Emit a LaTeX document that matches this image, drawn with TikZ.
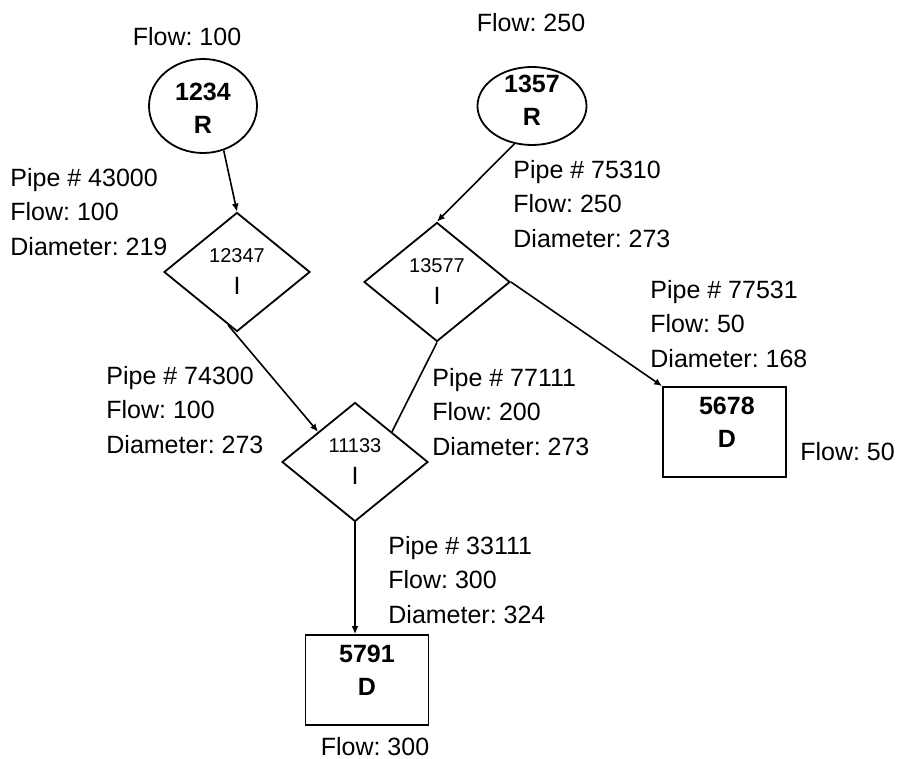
\documentclass[tikz,border=0pt]{standalone}
\usepackage{fontspec}
\setmainfont{Liberation Sans}
\usepackage{tikz}
\usetikzlibrary{arrows.meta,positioning,calc,shapes.geometric}
\frenchspacing
\tikzset{
  reservoir/.style={
    ellipse,
    draw=black,
    line width=0.9pt,
    inner sep=0pt
  },
  junction/.style={
    diamond,
    draw=black,
    line width=0.9pt,
    inner sep=0pt,
    minimum width=73pt,
    minimum height=59.5pt,
    align=center,
    font=\fontsize{12.5}{16}\selectfont
  },
  demand/.style={
    rectangle,
    draw=black,
    line width=0.9pt,
    minimum width=61.5pt,
    minimum height=45pt
  },
  idtext/.style={
    align=center,
    inner sep=0pt,
    font=\fontsize{12.5}{16.5}\selectfont\bfseries
  },
  info/.style={
    align=left,
    inner sep=0pt,
    font=\fontsize{12.5}{17.1}\selectfont
  },
  pipe/.style={-{Latex[length=4pt,width=3.5pt]}, line width=0.8pt, draw=black},
  plainpipe/.style={line width=0.8pt, draw=black}
}

\begin{document}
\begin{tikzpicture}[x=0.5pt, y=-0.5pt]
  \useasboundingbox (0,0) rectangle (900,759);

  \node[reservoir, minimum width=54pt, minimum height=47pt,
    label={[idtext, yshift=-1.2pt]center:{1234\\R}}] (n1234) at (203,106) {};
  \node[reservoir, minimum width=54.5pt, minimum height=39pt,
    label={[idtext, yshift=3pt]center:{1357\\R}}] (n1357) at (532,106) {};
  \node[junction] (n12347) at (237,272) {{\fontsize{10}{12}\selectfont 12347}\\I};
  \node[junction] (n13577) at (437,282) {{\fontsize{10}{12}\selectfont 13577}\\I};
  \node[junction] (n11133) at (355,462) {{\fontsize{10}{12}\selectfont 11133}\\I};
  \node[demand, label={[idtext, yshift=5pt, xshift=1.2pt]center:{5678\\D}}] (n5678) at (724.5,432) {};
  \node[demand, label={[idtext, yshift=5pt]center:{5791\\D}}] (n5791) at (367,680) {};

  \node[info, above=6pt of n1234, xshift=-8pt] (q1234) {Flow: 100};
  \node[info, above=17pt of n1357, xshift=-0.5pt] (q1357) {Flow: 250};
  \node[info, right=6.5pt of n5678, yshift=-10pt] (q5678) {Flow: 50};
  \node[info, below=5.5pt of n5791, xshift=4pt] (q5791) {Flow: 300};

  \node[info, anchor=west] (p43000) at (10,212) {Pipe \# 43000\\Flow: 100\\Diameter: 219};
  \node[info, anchor=west] (p75310) at (513,204) {Pipe \# 75310\\Flow: 250\\Diameter: 273};
  \node[info, anchor=west] (p77531) at (650,324) {Pipe \# 77531\\Flow: 50\\Diameter: 168};
  \node[info, anchor=west] (p74300) at (106,410) {Pipe \# 74300\\Flow: 100\\Diameter: 273};
  \node[info, anchor=west] (p77111) at (432,412) {Pipe \# 77111\\Flow: 200\\Diameter: 273};
  \node[info, anchor=west] (p33111) at (388,580) {Pipe \# 33111\\Flow: 300\\Diameter: 324};

  \draw[pipe] (n1234.-65) -- (n12347.north);
  \draw[pipe] (n1357.-115) -- (n13577.north);
  \draw[pipe] ($(n12347.south)!0.12!(n12347.west)$) -- (n11133.north west);
  \draw[plainpipe] (n13577.south) -- (n11133.north east);
  \draw[pipe] (n13577.east) -- (n5678.north west);
  \draw[pipe] (n11133.south) -- (n11133.south |- n5791.north);
\end{tikzpicture}
\end{document}
